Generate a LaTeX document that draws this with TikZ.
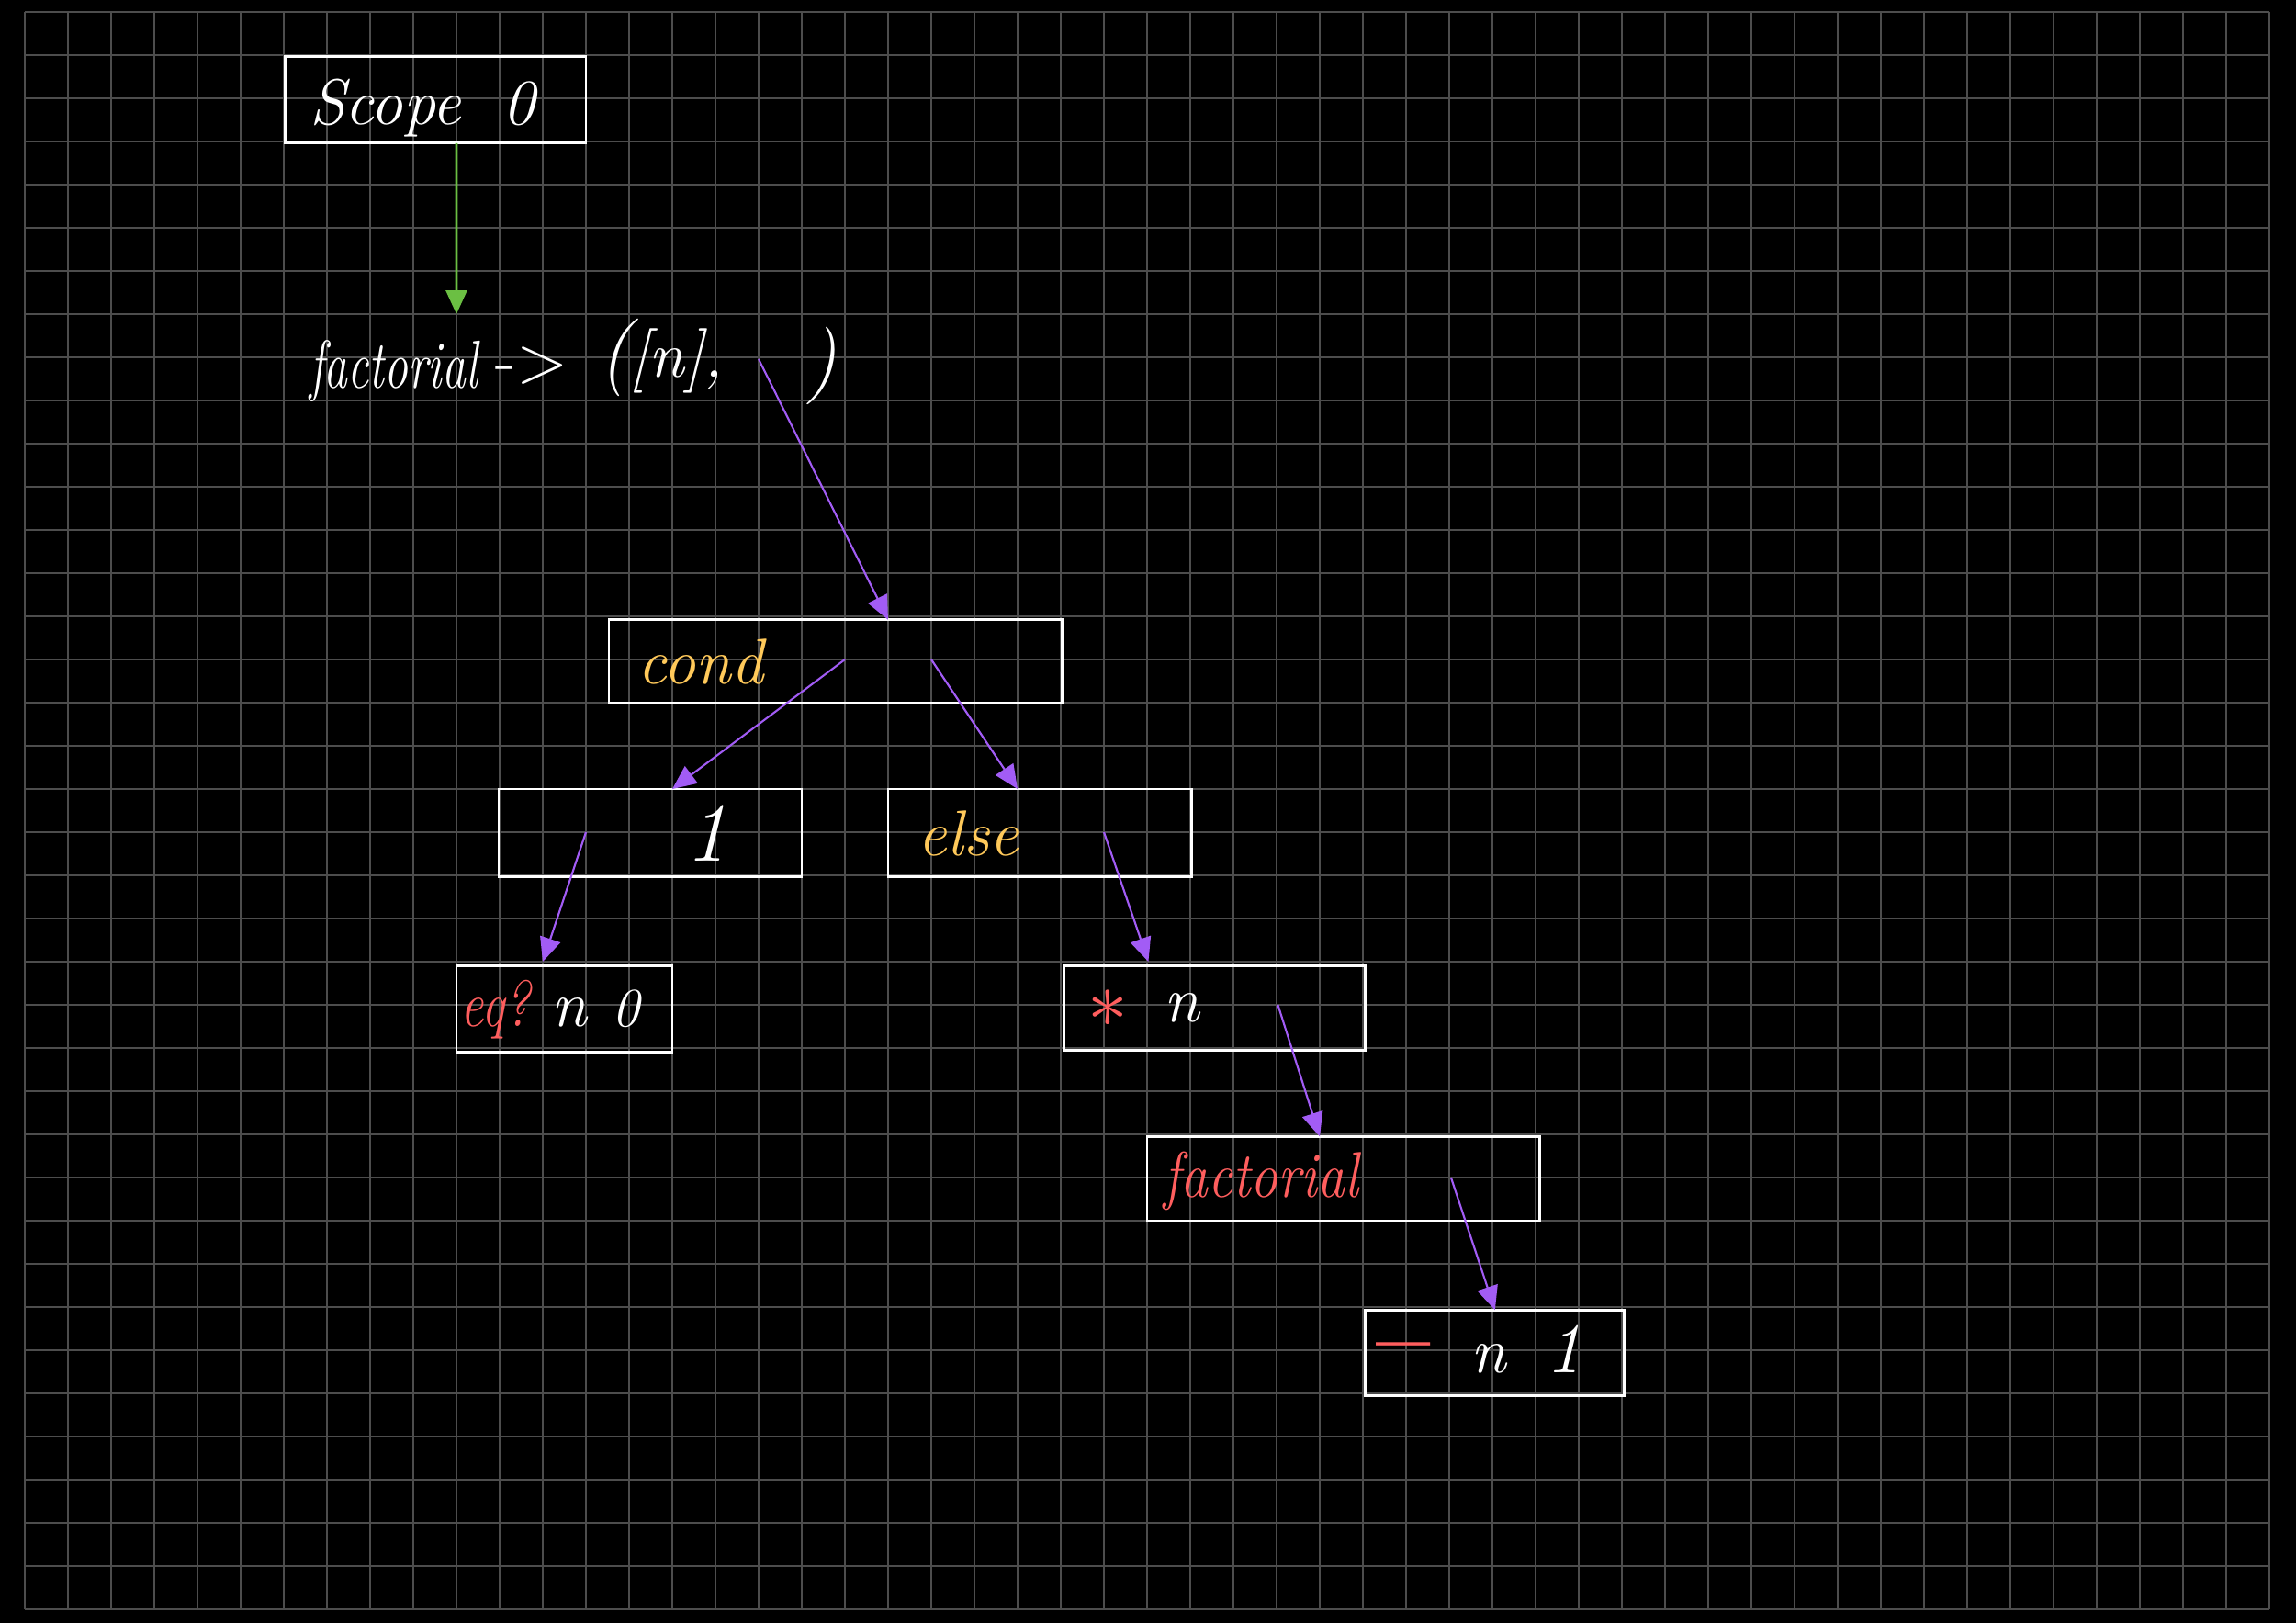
\documentclass[tikz,border=0pt]{standalone}
\usepackage{fontspec}
\usepackage{graphicx}
\usetikzlibrary{arrows.meta,calc}
\definecolor{gridc}{HTML}{4D4D4D}
\definecolor{greenc}{HTML}{6BBF43}
\definecolor{purplec}{HTML}{A25CF5}
\definecolor{yellowc}{HTML}{FFC95A}
\definecolor{redc}{HTML}{FF5E5E}
\begin{document}
\begin{tikzpicture}[x=0.47cm,y=-0.47cm,
  gridline/.style={draw=gridc,line width=0.5pt},
  box/.style 2 args={draw=white,line width=0.8pt,inner sep=0pt,outer sep=0pt,rectangle,anchor=north west,minimum width=#1*0.47cm,minimum height=#2*0.47cm},
  txt/.style={text=white,inner sep=0pt,outer sep=0pt,anchor=base west,font=\fontsize{20}{24}\selectfont\itshape},
  arr/.style={draw=purplec,line width=0.6pt,-{Triangle[length=0.26cm,width=0.23cm]}},
  garr/.style={draw=greenc,line width=0.8pt,-{Triangle[length=0.26cm,width=0.23cm]}}]
% background and grid
\fill[black] (-0.5745,-0.2766) rectangle (52.617,37.319);
\foreach \i in {0,...,52} \draw[gridline] (\i,0) -- (\i,37);
\foreach \j in {0,...,37} \draw[gridline] (0,\j) -- (52,\j);
% boxes
\node[box={6.96}{2.0}] (scope) at (6.04,1.04) {};
\node[box={10.5}{1.93}] (cond) at (13.53,14.08) {};
\node[box={7.02}{2.03}] (one) at (10.98,18.0) {};
\node[box={7.04}{2.03}] (else) at (20.0,18.0) {};
\node[box={5.0}{2.0}] (eq) at (10.0,22.1) {};
\node[box={6.99}{1.95}] (mul) at (24.07,22.1) {};
\node[box={9.09}{1.95}] (fact) at (26.0,26.05) {};
\node[box={6.0}{1.98}] (sub) at (31.06,30.07) {};
% texts
\node[txt] (scopetxt) at (6.6,2.6) {Scope\hspace{0.45cm}0};
\node[txt,font=\fontsize{21}{25}\selectfont\itshape] (lamname) at (6.6,8.72) {\scalebox{0.7}[1]{factorial}};
\node[txt,anchor=center,font=\fontsize{21}{25}\selectfont\upshape] (lamarrow) at (11.75,8.19) {->};
\node[txt] (lamargs) at (13.3,8.45) {{\fontsize{24}{28}\selectfont(}[n],};
\node[txt,font=\fontsize{24}{28}\selectfont\itshape] (lamclose) at (18.1,8.65) {)};
\node[txt,text=yellowc] (condtxt) at (14.2,15.57) {cond};
\node[txt,font=\fontsize{26}{30}\selectfont\itshape] (onetxt) at (15.3,19.66) {1};
\node[txt,text=yellowc] (elsetxt) at (20.7,19.55) {else};
\node[txt,text=redc] (eqtxt) at (10.1,23.49) {\scalebox{0.8}[1]{eq?}};
\node[txt] (eqn) at (12.2,23.49) {n};
\node[txt,font=\fontsize{17}{20}\selectfont\itshape] (eqzero) at (13.6,23.49) {0};
\node[txt,text=redc,anchor=center,font=\fontsize{30}{30}\selectfont] (multxt) at (25.1,23.09) {$\ast$};
\node[txt] (muln) at (26.4,23.4) {n};
\node[txt,text=redc] (facttxt) at (26.4,27.45) {\scalebox{0.85}[1]{factorial}};
\node[txt,text=redc,anchor=center,font=\fontsize{30}{30}\selectfont\bfseries] (subtxt) at (31.95,31.15) {–};
\node[txt] (subn) at (33.5,31.53) {n};
\node[txt,font=\fontsize{22}{26}\selectfont\itshape] (subone) at (35.25,31.53) {1};
% connectors
\coordinate (gtip) at (10.0,7.0);
\coordinate (lamb) at (17.0,8.04);
\draw[garr] ($(scope.south west)+(3.96,0)$) -- (gtip);
\draw[arr] (lamb) -- ($(cond.north west)+(6.47,0)$);
\draw[arr] ($(cond.north west)+(5.47,0.92)$) -- ($(one.north west)+(4.02,0)$);
\draw[arr] ($(cond.north west)+(7.47,0.92)$) -- ($(else.north west)+(3.0,0)$);
\draw[arr] ($(one.north west)+(2.02,1.0)$) -- ($(eq.north west)+(2.0,-0.1)$);
\draw[arr] ($(else.north west)+(5.0,1.0)$) -- ($(mul.north west)+(1.96,-0.1)$);
\draw[arr] ($(mul.north west)+(4.96,0.9)$) -- ($(fact.north west)+(4.0,0)$);
\draw[arr] ($(fact.north west)+(7.04,0.95)$) -- ($(sub.north west)+(3.0,0)$);
\end{tikzpicture}
\end{document}
